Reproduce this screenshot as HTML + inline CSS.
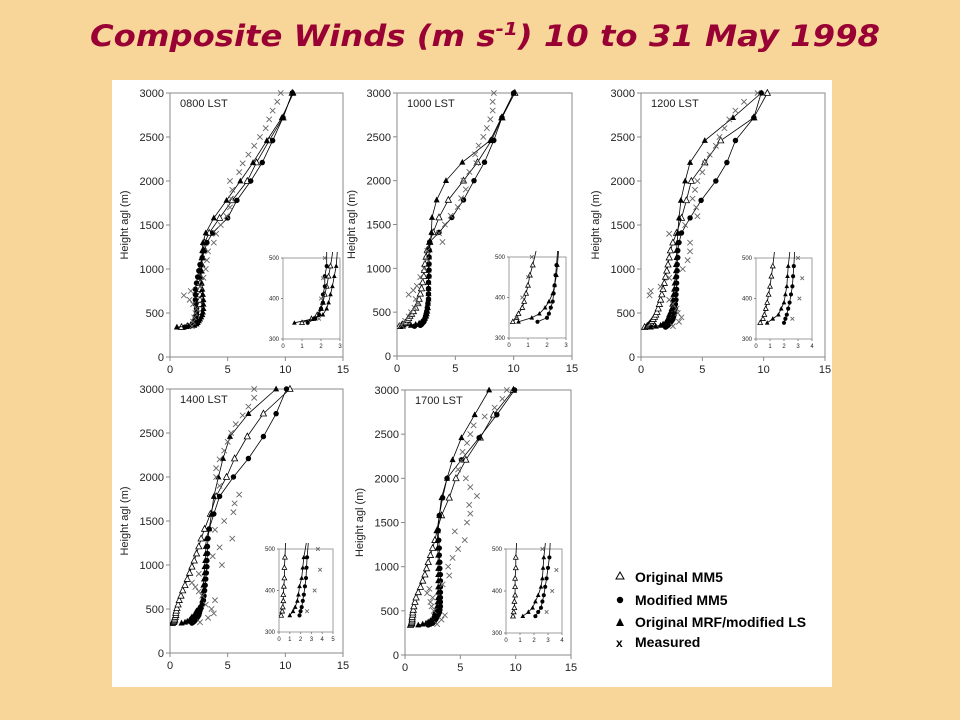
<!DOCTYPE html>
<html><head><meta charset="utf-8"><style>
html,body{margin:0;padding:0;background:#F8D69A;}
svg{display:block;}
text{font-family:"Liberation Sans",Arial,sans-serif;}
</style></head><body>
<svg id="chart" width="960" height="720" viewBox="0 0 960 720" xmlns="http://www.w3.org/2000/svg">
<rect x="0" y="0" width="960" height="720" fill="#F8D69A"/>
<text x="485" y="46" text-anchor="middle" font-family="DejaVu Sans, sans-serif" style="font-family:'DejaVu Sans',sans-serif" font-size="29" font-weight="bold" font-style="italic" fill="#990033" textLength="790" lengthAdjust="spacingAndGlyphs">Composite Winds (m s<tspan font-size="18" dy="-11">-1</tspan><tspan dy="11">) 10 to 31 May 1998</tspan></text>
<rect x="112" y="80" width="720" height="607" fill="#ffffff"/>
<g id="panels"></g>
<g>
<g><polygon points="620,572 624,579 616,579" fill="#fff" stroke="#000" stroke-width="1"/><text x="635" y="582" font-size="14" font-weight="bold">Original MM5</text></g>
<g><circle cx="620" cy="600" r="3.2" fill="#000"/><text x="635" y="605" font-size="14" font-weight="bold">Modified MM5</text></g>
<g><polygon points="620,618 624,626 616,626" fill="#000"/><text x="635" y="627" font-size="14" font-weight="bold">Original MRF/modified LS</text></g>
<g><text x="616" y="647" font-size="12" font-weight="bold">x</text><text x="635" y="647" font-size="14" font-weight="bold">Measured</text></g>
</g>
</svg>
<script>
// model levels (m) and measured levels (m)
const modelHeights = [340,350,360,375,390,410,430,455,480,510,550,600,650,710,770,840,910,980,1050,1130,1210,1300,1410,1580,1780,2000,2210,2460,2720,3000];
const measHeights = [350,400,450,500,550,600,650,700,750,800,900,1000,1100,1200,1300,1400,1500,1600,1700,1800,1900,2000,2100,2200,2300,2400,2500,2600,2700,2800,2900,3000];
const panelLabels = ["0800 LST","1000 LST","1200 LST","1400 LST","1700 LST"];
const xTickLabels = [0,5,10,15];
const yTickLabels = [0,500,1000,1500,2000,2500,3000];
const insetYTicks = [300,400,500];
const insetXMax = [3,3,4,5,4];

const origMM5_0800 = [1.0,1.5,1.8,2.0,2.1,2.2,2.3,2.4,2.5,2.6,2.6,2.6,2.6,2.6,2.6,2.6,2.6,2.7,2.75,2.8,2.9,3.0,3.4,4.3,5.4,6.7,7.5,8.6,9.8,10.6];
const modMM5_0800 = [1.3,1.7,1.9,2.0,2.1,2.1,2.2,2.2,2.3,2.3,2.3,2.2,2.2,2.2,2.2,2.3,2.4,2.5,2.6,2.8,3.0,3.2,3.7,5.0,5.8,7.0,8.0,8.9,9.8,10.6];
const mrf_0800 = [0.6,1.6,2.1,2.3,2.4,2.5,2.6,2.7,2.8,2.85,2.9,2.9,2.9,2.85,2.8,2.75,2.7,2.7,2.7,2.75,2.8,2.85,3.1,3.8,4.9,6.1,7.2,8.4,9.7,10.7];
const meas_0800 = [1.9,2.0,2.1,2.2,2.3,2.0,1.7,1.2,1.8,2.6,2.9,3.1,3.2,3.3,3.8,4.0,4.4,4.9,5.2,5.3,5.4,5.2,6.0,6.3,6.8,7.3,7.8,8.3,8.6,8.9,9.3,9.6];

const origMM5_1000 = [0.2,0.4,0.5,0.7,0.8,0.9,1.0,1.1,1.25,1.4,1.6,1.8,1.9,2.0,2.1,2.2,2.3,2.35,2.4,2.5,2.6,2.8,3.1,3.6,4.4,5.7,6.9,8.1,9.0,10.1];
const modMM5_1000 = [1.5,2.0,2.1,2.2,2.3,2.35,2.4,2.45,2.5,2.55,2.6,2.65,2.7,2.7,2.7,2.7,2.75,2.75,2.75,2.75,2.75,2.8,3.6,4.7,5.7,6.6,7.5,8.3,9.0,10.0];
const mrf_1000 = [0.5,1.2,1.6,1.9,2.1,2.3,2.4,2.5,2.55,2.6,2.65,2.65,2.7,2.7,2.7,2.7,2.7,2.7,2.7,2.75,2.8,2.85,2.95,3.0,3.4,4.2,5.6,8.0,8.95,10.0];
const meas_1000 = [0.4,0.7,1.0,1.2,1.5,1.8,1.6,1.0,1.4,1.7,2.0,2.3,2.5,2.6,3.9,3.6,4.1,4.6,5.2,5.5,5.9,5.7,6.2,6.8,6.7,7.0,7.4,7.7,8.0,8.2,8.2,8.3];

const origMM5_1200 = [0.3,0.5,0.6,0.7,0.8,0.9,1.0,1.1,1.2,1.3,1.4,1.5,1.6,1.7,1.8,1.9,2.0,2.1,2.2,2.3,2.4,2.6,2.9,3.3,3.7,4.1,5.2,6.5,9.2,10.3];
const modMM5_1200 = [2.0,2.1,2.2,2.3,2.4,2.5,2.6,2.65,2.7,2.75,2.8,2.8,2.85,2.85,2.9,2.9,2.9,2.95,2.95,3.0,3.0,3.1,3.3,4.0,4.9,6.1,7.0,7.7,9.2,9.8];
const mrf_1200 = [0.8,1.2,1.6,1.8,2.0,2.1,2.2,2.25,2.3,2.4,2.5,2.55,2.6,2.65,2.7,2.75,2.8,2.85,2.85,2.9,2.9,2.95,3.0,3.1,3.25,3.6,4.0,5.2,7.5,9.8];
const meas_1200 = [2.6,3.1,3.3,3.0,2.9,2.6,2.3,0.7,0.8,1.6,2.3,3.4,3.8,4.0,4.0,2.3,3.6,4.6,4.5,4.2,4.4,4.6,5.0,5.2,5.6,6.1,6.4,6.8,7.2,7.7,8.4,9.5];

const origMM5_1400 = [0.2,0.3,0.35,0.4,0.4,0.45,0.5,0.5,0.55,0.6,0.7,0.8,0.95,1.1,1.3,1.5,1.7,1.9,2.1,2.3,2.5,2.7,3.0,3.5,4.0,4.9,5.6,6.7,8.1,10.4];
const modMM5_1400 = [1.9,2.0,2.1,2.2,2.3,2.4,2.5,2.55,2.6,2.7,2.8,2.9,2.95,3.0,3.05,3.1,3.15,3.2,3.2,3.25,3.25,3.3,3.4,3.8,4.3,5.5,6.8,8.1,9.2,10.1];
const mrf_1400 = [1.0,1.3,1.5,1.7,1.8,1.9,2.1,2.2,2.3,2.5,2.7,2.8,2.85,2.9,2.9,2.95,3.0,3.0,3.05,3.1,3.1,3.15,3.4,3.6,3.8,4.2,4.6,5.2,6.8,9.2];
const meas_1400 = [2.6,3.3,3.8,3.6,3.1,3.9,2.8,2.5,2.2,1.9,2.5,4.5,3.7,4.3,5.4,3.9,4.7,5.5,5.6,6.0,4.3,4.0,4.0,4.3,4.7,5.0,5.3,5.7,6.3,6.8,7.3,7.3];

const origMM5_1700 = [0.5,0.55,0.6,0.6,0.65,0.65,0.65,0.7,0.7,0.75,0.8,0.9,1.0,1.2,1.4,1.6,1.8,1.95,2.1,2.3,2.5,2.7,2.9,3.3,4.0,4.6,5.5,6.8,8.0,9.8];
const modMM5_1700 = [2.1,2.3,2.5,2.6,2.7,2.8,2.9,3.0,3.1,3.15,3.2,3.2,3.2,3.2,3.2,3.2,3.2,3.15,3.15,3.1,3.1,3.05,3.0,3.1,3.4,3.8,5.1,6.7,8.3,9.9];
const mrf_1700 = [1.2,1.6,1.9,2.1,2.3,2.5,2.6,2.65,2.7,2.8,2.9,2.95,3.0,3.0,3.0,3.0,3.0,3.0,3.0,3.0,2.95,2.95,2.9,3.1,3.3,3.8,4.3,5.1,6.3,7.6];
const meas_1700 = [2.9,3.3,3.6,2.6,2.4,2.3,2.5,2.0,2.2,3.4,4.0,3.9,4.3,4.8,5.4,4.5,5.6,5.9,5.8,6.5,5.9,5.5,4.8,5.1,5.2,5.6,5.9,6.2,7.2,8.1,8.8,9.2];

const origSeries = [origMM5_0800,origMM5_1000,origMM5_1200,origMM5_1400,origMM5_1700];
const modSeries = [modMM5_0800,modMM5_1000,modMM5_1200,modMM5_1400,modMM5_1700];
const mrfSeries = [mrf_0800,mrf_1000,mrf_1200,mrf_1400,mrf_1700];
const measSeries = [meas_0800,meas_1000,meas_1200,meas_1400,meas_1700];

// layout (pixels)
const mainBoxes = [
 {l:170,r:343,t:93,b:357},{l:397,r:572,t:93,b:356},{l:641,r:825,t:93,b:357},
 {l:170,r:343,t:389,b:653},{l:405,r:571,t:390,b:655}];
const insetBoxes = [
 {l:283,r:340,t:258,b:339},{l:509,r:566,t:257,b:338},{l:756,r:812,t:258,b:339},
 {l:279,r:333,t:549,b:632},{l:506,r:562,t:549,b:633}];

const NS="http://www.w3.org/2000/svg";
const root=document.getElementById('panels');
function mk(tag,attrs,parent){const e=document.createElementNS(NS,tag);for(const k in attrs)e.setAttribute(k,attrs[k]);parent.appendChild(e);return e;}

function marker(g,type,x,y,s){
  let e;
  if(type==='open'){e=mk('polygon',{points:`${x},${y-s} ${x+s*0.9},${y+s*0.7} ${x-s*0.9},${y+s*0.7}`,fill:'#fff',stroke:'#000','stroke-width':0.8},g);}
  else if(type==='tri'){e=mk('polygon',{points:`${x},${y-s} ${x+s*0.9},${y+s*0.7} ${x-s*0.9},${y+s*0.7}`,fill:'#000'},g);}
  else if(type==='dot'){e=mk('circle',{cx:x,cy:y,r:s*0.8,fill:'#000'},g);}
  else {const d=s*0.6;e=mk('path',{d:`M${x-d},${y-d}L${x+d},${y+d}M${x+d},${y-d}L${x-d},${y+d}`,stroke:'#666','stroke-width':0.9,fill:'none'},g);}
  return e;
}

function drawPlot(p,box,xmax,ymin,ymax,isInset){
  const xs=v=>box.l+(v/xmax)*(box.r-box.l);
  const ys=v=>box.b-((v-ymin)/(ymax-ymin))*(box.b-box.t);
  const g=mk('g',{},root);
  
  
  const cid=`clip${p}${isInset?'i':'m'}`;
  const cp=mk('clipPath',{id:cid},g);mk('rect',{x:box.l,y:box.t-6,width:box.r-box.l,height:box.b-box.t+6},cp);
  if(isInset){mk('rect',{x:box.l,y:box.t,width:box.r-box.l,height:box.b-box.t,fill:'#fff'},g);}
  const frame=mk('rect',{x:box.l,y:box.t,width:box.r-box.l,height:box.b-box.t,fill:'none',stroke:'#888','stroke-width':isInset?0.8:1},g);
  
  
  const fs=isInset?6:11, tl=isInset?2:4;
  const xt=isInset?Array.from({length:xmax+1},(_,i)=>i):xTickLabels;
  const yt=isInset?insetYTicks:yTickLabels;
  xt.forEach(v=>{mk('line',{x1:xs(v),x2:xs(v),y1:box.b,y2:box.b+tl,stroke:'#888'},g);
    const t=mk('text',{x:xs(v),y:box.b+tl+fs+1,'font-size':fs,'text-anchor':'middle',fill:'#222'},g);t.textContent=v;
    
    });
  yt.forEach(v=>{mk('line',{x1:box.l-tl,x2:box.l,y1:ys(v),y2:ys(v),stroke:'#888'},g);
    const t=mk('text',{x:box.l-tl-2,y:ys(v)+fs*0.36,'font-size':fs,'text-anchor':'end',fill:'#222'},g);t.textContent=v;
    
    });
  const dg=mk('g',{'clip-path':`url(#${cid})`},g);
  const series=[[origSeries[p],'open'],[modSeries[p],'dot'],[mrfSeries[p],'tri']];
  const ms=isInset?2.6:3.4;
  series.forEach(([arr,type])=>{
    const sg=mk('g',{},dg);
    
    
    const pts=arr.map((v,i)=>[xs(v),ys(modelHeights[i])]);
    mk('polyline',{points:pts.map(q=>q.join(',')).join(' '),fill:'none',stroke:'#000','stroke-width':0.8},sg);
    arr.forEach((v,i)=>{const h=modelHeights[i];if(h<ymin||h>ymax)return;
      const m=marker(sg,type,xs(v),ys(h),ms);
      
      });
  });
  const mg=mk('g',{},dg);
  
  
  measSeries[p].forEach((v,i)=>{const h=measHeights[i];if(h<ymin||h>ymax)return;
    const m=marker(mg,'x',xs(v),ys(h),isInset?3:4.5);
    
    });
  if(!isInset){
    const lt=mk('text',{x:box.l+10,y:box.t+14,'font-size':11,fill:'#222'},g);lt.textContent=panelLabels[p];
    
    
    const cy=(box.t+box.b)/2, cx=box.l-42;
    const yt2=mk('text',{x:cx,y:cy,'font-size':11,'text-anchor':'middle',fill:'#222',transform:`rotate(-90 ${cx} ${cy})`},g);yt2.textContent='Height agl (m)';
    
    
  }
}
for(let p=0;p<5;p++){
  drawPlot(p,mainBoxes[p],15,0,3000,false);
  drawPlot(p,insetBoxes[p],insetXMax[p],300,500,true);
}
</script>
</body></html>
